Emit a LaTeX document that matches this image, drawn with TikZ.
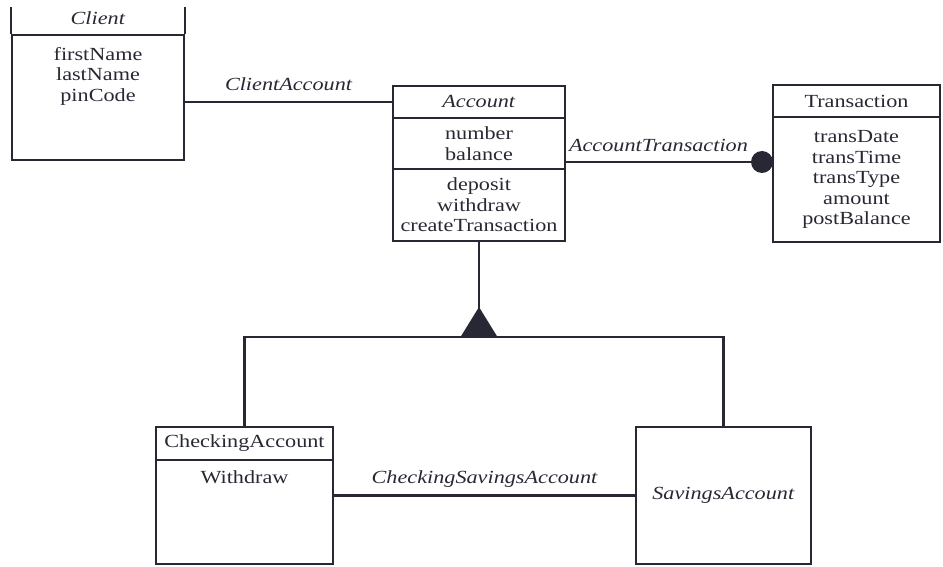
\documentclass[tikz,border=0pt]{standalone}
\usepackage{fontspec}
\setmainfont{Liberation Serif}[FakeStretch=1.2]
\usetikzlibrary{positioning}

\definecolor{ink}{RGB}{40,40,52}
\tikzset{
  cls/.style={draw=ink,line width=2.2pt,inner sep=0pt,align=center},
  link/.style={draw=ink,line width=2.2pt},
  lbl/.style={font=\fontsize{18.5}{20.5}\selectfont\itshape,inner sep=0pt},
  dot/.style={circle,fill=ink,minimum size=22pt,inner sep=0pt}
}

\begin{document}
\begin{tikzpicture}[x=1pt,y=1pt,font=\fontsize{18.5}{20.5}\selectfont,text=ink]
\useasboundingbox (0,0) rectangle (943,566);

% Client
\node[cls,minimum width=172pt,minimum height=125pt] (cltbody) at (98,468.5) {};
\draw[link] (cltbody.north west) -- ++(0,27);
\draw[link] (cltbody.north east) -- ++(0,27);
\node (clttitle) at (98,548) {\textit{Client}};
\node[below=13pt of cltbody.north,inner sep=0pt,align=center] (cltattr) {firstName\\lastName\\pinCode};

% Account
\node[cls,minimum width=172pt,minimum height=32pt] (acchead) at (479,464) {\textit{Account}};
\node[cls,minimum width=172pt,minimum height=51pt] (accattr) at (479,422.5) {number\\balance};
\node[cls,minimum width=172pt,minimum height=72pt] (accops) at (479,361) {deposit\\withdraw\\createTransaction};

% Transaction
\node[cls,minimum width=167pt,minimum height=32pt] (transhead) at (856.5,465) {Transaction};
\node[cls,minimum width=167pt,minimum height=125pt] (transbody) at (856.5,386.5) {transDate\\transTime\\transType\\amount\\postBalance};

% CheckingAccount, SavingsAccount
\node[cls,minimum width=177pt,minimum height=33pt] (chkhead) at (244.5,122.5) {CheckingAccount};
\node[cls,minimum width=177pt,minimum height=104pt] (chkbody) at (244.5,54) {};
\node[below=12pt of chkbody.north,inner sep=0pt] (chkop) {Withdraw};
\node[cls,minimum width=175pt,minimum height=137pt] (sav) at (723.5,70.5) {\textit{SavingsAccount}};

% associations
\draw[link] (cltbody.east |- acchead.west) -- node[lbl,above=10pt] {ClientAccount} (acchead.west);
\node[dot] (agg) at (762,404) {};
\draw[link] (agg -| accattr.east) -- node[lbl,above=9pt] {AccountTransaction} (agg.west);
\draw[link] (chkbody.east |- sav.west) -- node[lbl,above=7pt] {CheckingSavingsAccount} (sav.west);

% generalisation
\coordinate (fork) at (479,229);
\draw[link] (accops.south) -- (fork);
\fill[ink] (fork) ++(-18.5,0) -- ++(18.5,30) -- ++(18.5,-30) -- cycle;
\draw[link] (chkhead.north) |- (fork) -| (sav.north);
\end{tikzpicture}
\end{document}
